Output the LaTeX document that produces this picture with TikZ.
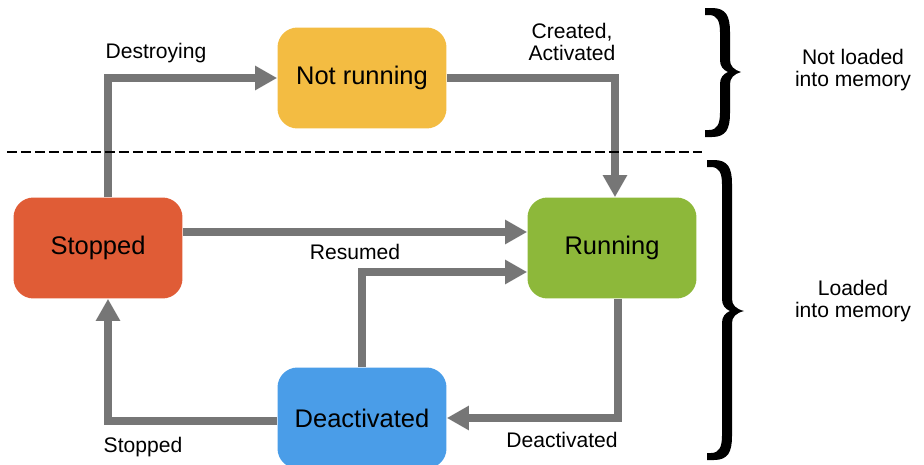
\documentclass[tikz,border=0pt]{standalone}
\usepackage{fontspec}
\setmainfont{Liberation Sans}
\usetikzlibrary{arrows.meta}
\definecolor{Yellow}{RGB}{243,188,66}
\definecolor{Red}{RGB}{224,92,54}
\definecolor{Green}{RGB}{141,184,58}
\definecolor{Blue}{RGB}{74,157,232}
\definecolor{Gray}{RGB}{118,118,118}
\definecolor{Black}{RGB}{0,0,0}

\tikzset{
	state/.style={rounded corners=0.4cm, minimum width=3.38cm, minimum height=2.02cm, font=\fontsize{14.5}{17}\selectfont, text=Black},
	flow/.style={draw=Gray, line width=0.16cm, -{Triangle[length=0.44cm,width=0.46cm]}},
	lbl/.style={font=\fontsize{12}{12.5}\selectfont, align=center, text=Black},
	membrace/.style={fill=Black, draw=none},
}

\begin{document}
\begin{tikzpicture}[x=0.02cm, y=-0.02cm]
		\useasboundingbox (0,0) rectangle (924,464);
		
		% States
		\node[state, fill=Yellow] (notrun) at (362,78) {Not running};
		\node[state, fill=Red] (stopped) at (98,248) {Stopped};
		\node[state, fill=Green] (running) at (612,248) {Running};
		\node[state, fill=Blue] (deact) at (362,418) {Deactivated};
		
		% Transitions
		\draw[flow] ([xshift=0.2cm]stopped.north) |- (notrun.west);
		\draw[flow] (notrun.east) -| ([xshift=0.06cm]running.north);
		\draw[flow] ([yshift=0.32cm]stopped.east) -- ([yshift=0.32cm]running.west);
		\draw[flow] (deact.north) |- ([yshift=-0.48cm]running.west);
		\draw[flow] ([xshift=0.12cm]running.south) |- (deact.east);
		\draw[flow] ([yshift=-0.06cm]deact.west) -| ([xshift=0.2cm]stopped.south);
		
		% Labels
		\node[lbl] (destroying) at (156,53) {Destroying};
		\node[lbl] (created) at (572,42) {Created,\\Activated};
		\node[lbl] (resumed) at (355,252) {Resumed};
		\node[lbl] (deactivated) at (562,440) {Deactivated};
		\node[lbl] (stoppedlbl) at (143,447) {Stopped};
		
		% Memory split
		\draw[draw=Black, line width=0.04cm, dash pattern=on 0.2cm off 0.08cm] (7,152) -- (702,152);
		
		% Braces
		\fill[membrace] (705,8) -- (712,8) .. controls (726,8) and (730,16) .. (730,32) -- (730,60) .. controls (730,66) and (734,70) .. (741,72) .. controls (734,74) and (730,78) .. (730,84) -- (730,113) .. controls (730,129) and (726,137) .. (712,137) -- (705,137) -- (705,130) -- (709,130) .. controls (717,130) and (720,124) .. (720,113) -- (720,84) .. controls (720,78) and (723,74) .. (728,72) .. controls (723,70) and (720,66) .. (720,60) -- (720,32) .. controls (720,21) and (717,15) .. (709,15) -- (705,15) -- cycle;
		\fill[membrace] (707,160) -- (714,160) .. controls (728,160) and (732,168) .. (732,184) -- (732,299) .. controls (732,305) and (736,309) .. (744,311) .. controls (736,313) and (732,317) .. (732,323) -- (732,436) .. controls (732,452) and (728,460) .. (714,460) -- (707,460) -- (707,453) -- (711,453) .. controls (719,453) and (722,447) .. (722,436) -- (722,323) .. controls (722,317) and (725,313) .. (730,311) .. controls (725,309) and (722,305) .. (722,299) -- (722,184) .. controls (722,173) and (719,167) .. (711,167) -- (707,167) -- cycle;
		
		\node[lbl] (notloaded) at (853,70) {Not loaded\\into memory};
		\node[lbl] (loaded) at (853,301) {Loaded\\into memory};
		
	\end{tikzpicture}
\end{document}
